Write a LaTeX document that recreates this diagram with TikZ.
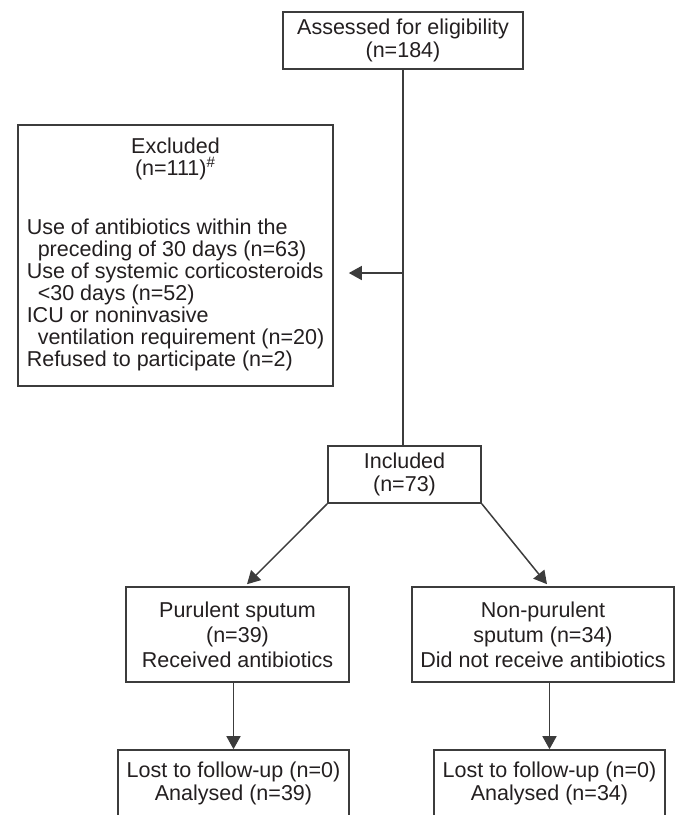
\documentclass[tikz,border=0pt]{standalone}
\usepackage{fontspec}
\setmainfont{Liberation Sans}
\usetikzlibrary{arrows.meta, positioning, calc}
\definecolor{inkgray}{RGB}{35, 31, 32}
\definecolor{linegray}{RGB}{60, 60, 60}

\begin{document}
\begin{tikzpicture}[
  x=0.5bp, y=-0.5bp,
  fbox/.style={draw=linegray, line width=0.8bp, align=center, text=inkgray, inner sep=0pt, font=\fontsize{10.8}{11.75}\selectfont},
  arr/.style={-{Triangle[length=6.5bp, width=7bp]}, draw=linegray, line width=0.75bp}
]
  \useasboundingbox (0,0) rectangle (675,815);

  \node[fbox, minimum width=120bp, minimum height=28.5bp] (assess) at (403, 40.5) {Assessed for eligibility\\(n=184)};
  \node[fbox, minimum width=157.5bp, minimum height=130.5bp, font=\fontsize{10.8}{10.9}\selectfont] (excl) at (175.5, 255.5)
    {Excluded\\(n=111)\textsuperscript{\#}\\[18.6bp]%
     \begin{tabular}[t]{@{}l@{}}
       Use of antibiotics within the\\
       \hspace*{5.5bp}preceding of 30 days (n=63)\\
       Use of systemic corticosteroids\\
       \hspace*{5.5bp}<30 days (n=52)\\
       ICU or noninvasive\\
       \hspace*{5.5bp}ventilation requirement (n=20)\\
       Refused to participate (n=2)
     \end{tabular}};
  \node[fbox, minimum width=76.5bp, minimum height=28.5bp] (incl) at (404.5, 474.5) {Included\\(n=73)};
  \node[fbox, minimum width=111.5bp, minimum height=47.5bp, font=\fontsize{10.8}{12.5}\selectfont] (pur) at (237.5, 634.5) {Purulent sputum\\(n=39)\\Received antibiotics};
  \node[fbox, minimum width=131bp, minimum height=47.5bp, font=\fontsize{10.8}{12.5}\selectfont] (nonpur) at (543, 634.5) {Non-purulent\\sputum (n=34)\\Did not receive antibiotics};
  \node[fbox, minimum width=115.5bp, minimum height=33.5bp] (lost1) at (233.5, 783.5) {Lost to follow-up (n=0)\\Analysed (n=39)};
  \node[fbox, minimum width=115.5bp, minimum height=33.5bp] (lost2) at (549.5, 783.5) {Lost to follow-up (n=0)\\Analysed (n=34)};

  % main stem and branch to the excluded box
  \coordinate (branch) at (assess.south |- 0,273);
  \draw[draw=linegray, line width=0.75bp] (assess.south) -- (assess.south |- incl.north);
  \draw[arr] (branch) -- ([xshift=7.5bp]excl.east |- branch);

  \draw[arr] (incl.south west) -- ([xshift=4.75bp, yshift=1bp]pur.north);
  \draw[arr] (incl.south east) -- ([xshift=2bp, yshift=1bp]nonpur.north);
  \draw[arr] (pur.south -| lost1.north) -- (lost1.north);
  \draw[arr] (nonpur.south -| lost2.north) -- (lost2.north);
\end{tikzpicture}
\end{document}
